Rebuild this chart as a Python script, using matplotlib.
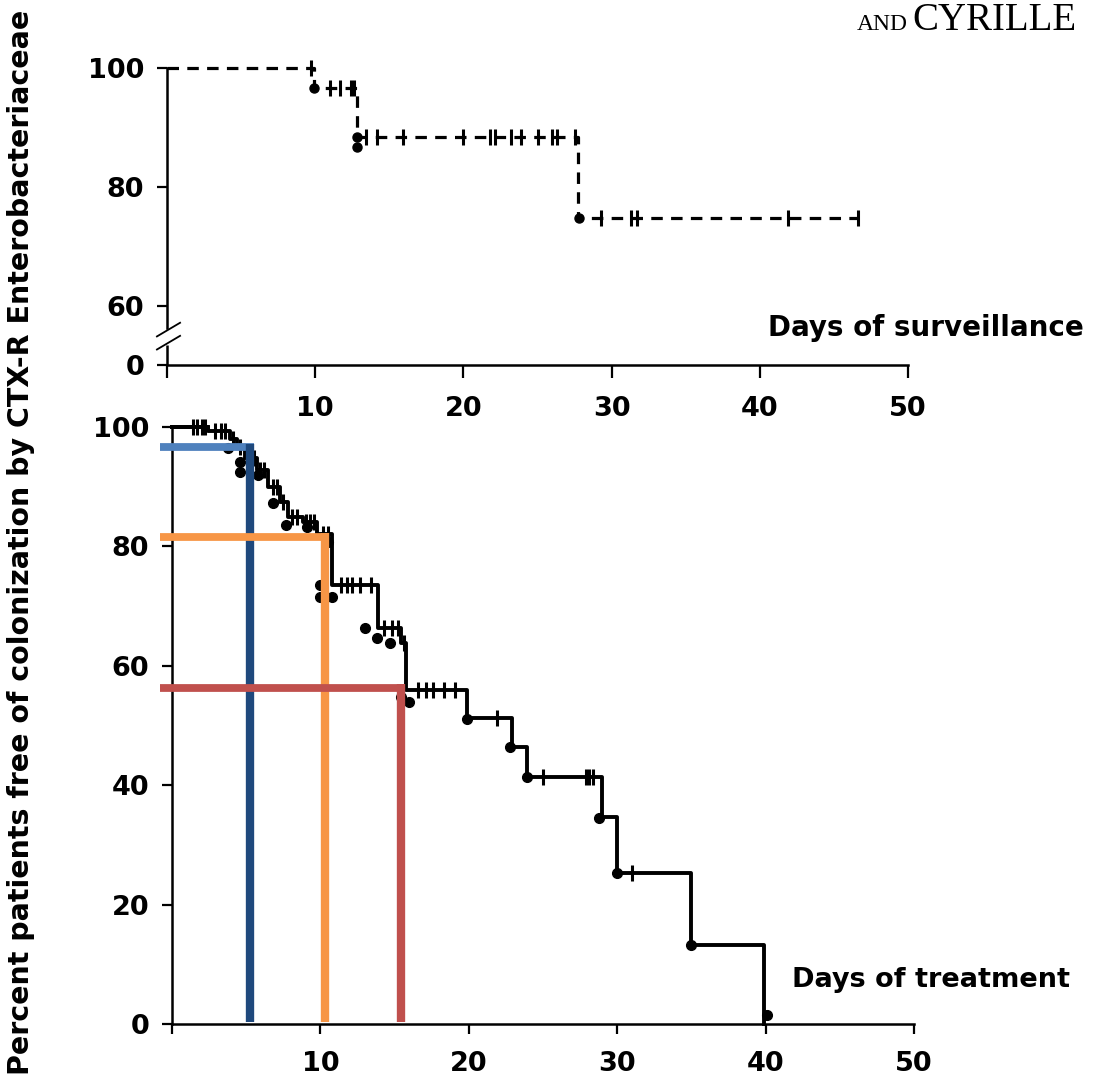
import numpy as np
import matplotlib
matplotlib.use("Agg")
import matplotlib.pyplot as plt

# ---------------- data ----------------
# Top panel: days of surveillance (dashed KM curve)
surv_times = [0, 9.9, 12.8, 27.7, 46.6]
surv_values = [100, 96.6, 88.4, 74.8, 74.8]
surv_censor = [9.7, 11.0, 11.7, 12.4, 12.6, 13.4, 14.2, 15.9, 20.0, 21.8, 22.1,
               23.2, 23.9, 25.0, 26.0, 26.3, 27.5, 29.3, 31.3, 31.7, 41.9, 46.6]
surv_dot_x = [9.9, 12.8, 12.8, 27.8]
surv_dot_y = [96.6, 88.4, 86.7, 74.8]

# Bottom panel: days of treatment (solid KM curve)
treat_times = [0, 2.4, 3.9, 4.4, 4.9, 5.7, 6.5, 7.3, 7.8, 8.8, 9.8, 10.8,
               13.9, 15.4, 15.8, 19.9, 22.9, 23.9, 29.0, 30.0, 35.0, 39.9]
treat_values = [100, 99.3, 98.0, 96.6, 94.8, 92.8, 90.0, 87.5, 85.0, 84.0, 82.0, 73.5,
                66.3, 63.8, 55.9, 51.3, 46.4, 41.4, 34.7, 25.3, 13.2, 0]
treat_censor = [1.4, 1.7, 2.0, 2.2, 2.9, 3.3, 3.6, 4.1, 4.6, 5.2, 5.5, 5.9, 6.2,
                6.8, 7.1, 7.5, 8.1, 8.4, 9.0, 9.3, 9.6, 10.2, 10.5,
                11.4, 11.8, 12.1, 12.7, 13.4, 14.3, 14.8, 15.2, 15.6,
                16.6, 17.1, 17.6, 18.3, 19.1, 21.9, 25.0, 27.9, 28.1, 28.4, 31.0]
treat_dot_x = [3.8, 4.6, 4.6, 5.8, 6.8, 7.7, 9.1, 10.5, 10.0, 10.0, 10.8, 13.0, 13.8,
               14.7, 15.4, 16.0, 19.9, 22.8, 23.9, 28.8, 30.0, 35.0, 40.1]
treat_dot_y = [96.5, 94.1, 92.5, 92.0, 87.3, 83.6, 83.2, 80.7, 73.5, 71.5, 71.5, 66.3, 64.7,
               63.8, 54.8, 53.9, 51.1, 46.4, 41.4, 34.5, 25.3, 13.2, 1.5]

# Highlighted reading lines (day, percent)
mark_days = [5.26, 10.3, 15.4]
mark_pct = [96.6, 81.6, 56.3]
mark_h_colors = ["#4f81bd", "#f79646", "#c0504d"]
mark_v_colors = ["#1f497d", "#f79646", "#c0504d"]

x_ticks = [0, 10, 20, 30, 40, 50]
x_tick_labels = ["", "10", "20", "30", "40", "50"]
top_y_ticks = [50, 60, 80, 100]          # 50 stands for the broken-axis zero
top_y_labels = ["0", "60", "80", "100"]
bot_y_ticks = [0, 20, 40, 60, 80, 100]
bot_y_labels = ["0", "20", "40", "60", "80", "100"]


def step_lookup(times, values, t):
    idx = np.searchsorted(np.asarray(times), t, side="right") - 1
    return np.asarray(values)[idx]


# ---------------- figure ----------------
fig = plt.figure(figsize=(11.01, 10.92), dpi=100)
ax1 = fig.add_axes([0.1517, 0.6658, 0.673, 0.2720])
ax2 = fig.add_axes([0.1562, 0.0623, 0.674, 0.5467])

tickfont = dict(fontsize=19.5, fontweight="heavy", family="DejaVu Sans")

for ax in (ax1, ax2):
    for s in ("top", "right"):
        ax.spines[s].set_visible(False)
    for s in ("left", "bottom"):
        ax.spines[s].set_linewidth(1.8)
    ax.tick_params(direction="out", length=7.5, width=1.6, pad=9)
    ax.set_xlim(0, 50)
    ax.set_xticks(x_ticks)
    ax.set_xticklabels(x_tick_labels, **tickfont)

# ---- top panel ----
ax1.set_ylim(50, 100)
ax1.set_yticks(top_y_ticks)
ax1.set_yticklabels(top_y_labels, **tickfont)
ax1.spines["left"].set_bounds(56.2, 100)
ax1.tick_params(axis="x", length=9, pad=13)
ax1.plot([0, 0], [50, 53.4], color="black", lw=1.8, clip_on=False, solid_capstyle="butt")
ax1.plot([-0.68, 0.88], [54.8, 57.1], color="black", lw=1.3, clip_on=False)
ax1.plot([-0.68, 0.88], [52.6, 54.9], color="black", lw=1.3, clip_on=False)

ax1.step(surv_times, surv_values, where="post", color="black", lw=2.3,
         linestyle=(0, (3.6, 2.6)), clip_on=False, zorder=3)
ax1.plot(surv_censor, step_lookup(surv_times, surv_values, surv_censor), linestyle="none",
         marker="|", markersize=11, markeredgewidth=2.2, color="black", clip_on=False, zorder=4)
ax1.plot(surv_dot_x, surv_dot_y, linestyle="none", marker="o", markersize=6.5,
         color="black", clip_on=False, zorder=4)

# ---- bottom panel ----
ax2.set_ylim(0, 100)
ax2.set_yticks(bot_y_ticks)
ax2.set_yticklabels(bot_y_labels, **tickfont)
ax2.tick_params(axis="x", length=7.5, pad=12)

ax2.step(treat_times, treat_values, where="post", color="black", lw=2.8,
         clip_on=False, zorder=3)
ax2.plot([0, treat_times[1]], [100, 100], color="black", lw=2.8, clip_on=False, zorder=3)
ax2.plot(treat_censor, step_lookup(treat_times, treat_values, treat_censor), linestyle="none",
         marker="|", markersize=11, markeredgewidth=2.2, color="black", clip_on=False, zorder=4)
ax2.plot(treat_dot_x, treat_dot_y, linestyle="none", marker="o", markersize=7,
         color="black", clip_on=False, zorder=4)

for d, p, ch, cv in zip(mark_days, mark_pct, mark_h_colors, mark_v_colors):
    ax2.plot([-0.8, d + 0.25], [p, p], color=ch, lw=5.6, solid_capstyle="butt",
             clip_on=False, zorder=6)
    ax2.plot([d, d], [p + 0.6, 0.3], color=cv, lw=6.0, solid_capstyle="butt",
             clip_on=False, zorder=6)

# ---- texts ----
fig.text(768 / 1101, 1 - 328 / 1092, "Days of surveillance", fontsize=20,
         fontweight="heavy", ha="left", va="center")
fig.text(792 / 1101, 1 - 980 / 1092, "Days of treatment", fontsize=19.5,
         fontweight="heavy", ha="left", va="center")
fig.text(21 / 1101, 0.503, "Percent patients free of colonization by CTX-R Enterobacteriaceae",
         fontsize=20.5, fontweight="heavy", rotation=90, ha="center", va="center")
fig.text(857 / 1101, 1 - 30 / 1092, "AND", fontsize=17, family="Liberation Serif",
         ha="left", va="baseline")
fig.text(912 / 1101, 1 - 30 / 1092, "CYRILLE", fontsize=28, family="Liberation Serif",
         ha="left", va="baseline")

fig.savefig("out.png", dpi=100, facecolor="white")
